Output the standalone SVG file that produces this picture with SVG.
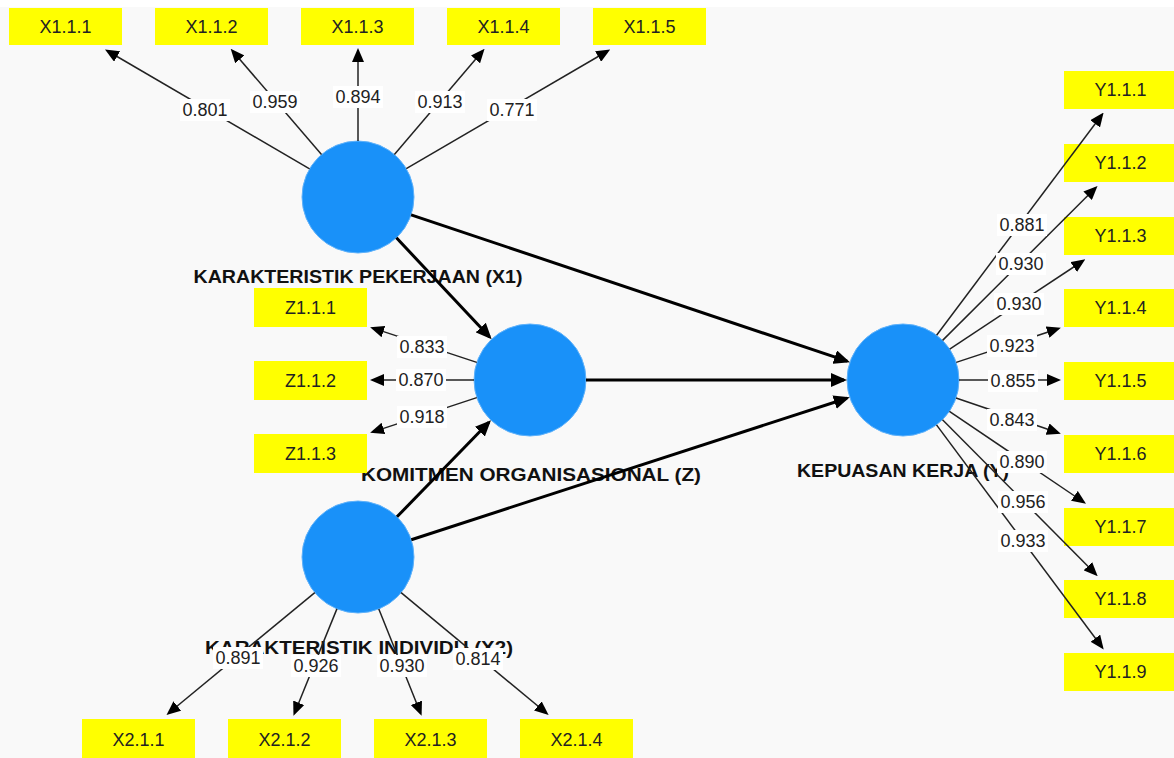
<svg xmlns="http://www.w3.org/2000/svg" width="1174" height="758" viewBox="0 0 1174 758">
<style>
.bg{fill:#f9f9f9}
.lv{fill:#1991f9;stroke:#5fb2fb;stroke-width:1}
.ind{fill:#ffff00}
.it{font-family:"Liberation Sans",Arial,sans-serif;font-size:18px;fill:#222;text-anchor:middle}
.ln{font-family:"Liberation Sans",Arial,sans-serif;font-size:19px;font-weight:bold;fill:#111;text-anchor:middle}
.w{stroke:#222;stroke-width:1.5;fill:none;marker-end:url(#ah)}
.s{stroke:#000;stroke-width:3;fill:none;marker-end:url(#ahb)}
.lb{fill:#fff}
.wt{font-family:"Liberation Sans",Arial,sans-serif;font-size:18px;fill:#222;text-anchor:middle}
</style>
<defs>
<marker id="ah" markerUnits="userSpaceOnUse" markerWidth="14" markerHeight="12" refX="11" refY="6" orient="auto"><path d="M0,0 L14,6 L0,12 z" fill="#000"/></marker>
<marker id="ahb" markerUnits="userSpaceOnUse" markerWidth="16" markerHeight="14" refX="13" refY="7" orient="auto"><path d="M0,0 L16,7 L0,14 z" fill="#000"/></marker>
</defs>
<rect class="bg" x="0" y="0" width="1174" height="758"/>
<rect x="0" y="0" width="1174" height="7" fill="#fff"/>

<g id="X1"><circle class="lv" cx="358" cy="197" r="56"/><text class="ln" x="358" y="283" textLength="329" lengthAdjust="spacingAndGlyphs">KARAKTERISTIK PEKERJAAN (X1)</text></g>
<g id="Z"><circle class="lv" cx="530" cy="380" r="56"/><text class="ln" x="531" y="481" textLength="340" lengthAdjust="spacingAndGlyphs">KOMITMEN ORGANISASIONAL (Z)</text></g>
<g id="Y"><circle class="lv" cx="903" cy="380" r="56"/><text class="ln" x="903" y="477" textLength="212" lengthAdjust="spacingAndGlyphs">KEPUASAN KERJA (Y)</text></g>
<g id="X2"><circle class="lv" cx="358" cy="557" r="56"/><text class="ln" x="359" y="654" textLength="308" lengthAdjust="spacingAndGlyphs">KARAKTERISTIK INDIVIDU (X2)</text></g>

<g id="X1.1.1"><rect class="ind" x="9" y="8" width="113" height="37"/><text class="it" x="65.5" y="33">X1.1.1</text></g>
<g id="X1.1.2"><rect class="ind" x="155" y="8" width="113" height="37"/><text class="it" x="211.5" y="33">X1.1.2</text></g>
<g id="X1.1.3"><rect class="ind" x="301" y="8" width="113" height="37"/><text class="it" x="357.5" y="33">X1.1.3</text></g>
<g id="X1.1.4"><rect class="ind" x="447" y="8" width="113" height="37"/><text class="it" x="503.5" y="33">X1.1.4</text></g>
<g id="X1.1.5"><rect class="ind" x="593" y="8" width="113" height="37"/><text class="it" x="649.5" y="33">X1.1.5</text></g>

<g id="Z1.1.1"><rect class="ind" x="254" y="288" width="113" height="39"/><text class="it" x="310.5" y="313.5">Z1.1.1</text></g>
<g id="Z1.1.2"><rect class="ind" x="254" y="361" width="113" height="39"/><text class="it" x="310.5" y="386.5">Z1.1.2</text></g>
<g id="Z1.1.3"><rect class="ind" x="254" y="434" width="113" height="39"/><text class="it" x="310.5" y="459.5">Z1.1.3</text></g>

<g id="Y1.1.1"><rect class="ind" x="1064" y="71" width="113" height="38"/><text class="it" x="1120.5" y="96">Y1.1.1</text></g>
<g id="Y1.1.2"><rect class="ind" x="1064" y="144" width="113" height="38"/><text class="it" x="1120.5" y="169">Y1.1.2</text></g>
<g id="Y1.1.3"><rect class="ind" x="1064" y="217" width="113" height="38"/><text class="it" x="1120.5" y="242">Y1.1.3</text></g>
<g id="Y1.1.4"><rect class="ind" x="1064" y="289" width="113" height="38"/><text class="it" x="1120.5" y="314">Y1.1.4</text></g>
<g id="Y1.1.5"><rect class="ind" x="1064" y="362" width="113" height="38"/><text class="it" x="1120.5" y="387">Y1.1.5</text></g>
<g id="Y1.1.6"><rect class="ind" x="1064" y="435" width="113" height="38"/><text class="it" x="1120.5" y="460">Y1.1.6</text></g>
<g id="Y1.1.7"><rect class="ind" x="1064" y="508" width="113" height="38"/><text class="it" x="1120.5" y="533">Y1.1.7</text></g>
<g id="Y1.1.8"><rect class="ind" x="1064" y="580" width="113" height="38"/><text class="it" x="1120.5" y="605">Y1.1.8</text></g>
<g id="Y1.1.9"><rect class="ind" x="1064" y="653" width="113" height="38"/><text class="it" x="1120.5" y="678">Y1.1.9</text></g>

<g id="X2.1.1"><rect class="ind" x="82" y="719" width="113" height="45"/><text class="it" x="138.5" y="746">X2.1.1</text></g>
<g id="X2.1.2"><rect class="ind" x="228" y="719" width="113" height="45"/><text class="it" x="284.5" y="746">X2.1.2</text></g>
<g id="X2.1.3"><rect class="ind" x="374" y="719" width="113" height="45"/><text class="it" x="430.5" y="746">X2.1.3</text></g>
<g id="X2.1.4"><rect class="ind" x="520" y="719" width="113" height="45"/><text class="it" x="576.5" y="746">X2.1.4</text></g>

<g id="connectors">
<line class="s" x1="396.4" y1="237.8" x2="489.6" y2="337"/>
<line class="s" x1="411.1" y1="214.8" x2="847.1" y2="361.2"/>
<line class="s" x1="586" y1="380" x2="844" y2="380"/>
<line class="s" x1="397" y1="516.8" x2="488.9" y2="422.3"/>
<line class="s" x1="411.3" y1="539.7" x2="846.9" y2="398.2"/>

<line class="w" x1="309.6" y1="168.8" x2="107.6" y2="51"/>
<line class="w" x1="321.5" y1="154.5" x2="232.6" y2="51"/>
<line class="w" x1="358" y1="141" x2="358" y2="51"/>
<line class="w" x1="394.4" y1="154.4" x2="482.6" y2="51"/>
<line class="w" x1="406.3" y1="168.7" x2="607.6" y2="51"/>

<line class="w" x1="476.8" y1="362.4" x2="373" y2="328.1"/>
<line class="w" x1="474" y1="380" x2="373" y2="380"/>
<line class="w" x1="476.8" y1="397.6" x2="373" y2="431.9"/>

<line class="w" x1="936.6" y1="335.2" x2="1101.8" y2="115"/>
<line class="w" x1="942.6" y1="340.4" x2="1095.4" y2="188"/>
<line class="w" x1="949.7" y1="349.1" x2="1082.8" y2="261"/>
<line class="w" x1="956.2" y1="362.4" x2="1058" y2="328.7"/>
<line class="w" x1="959" y1="380" x2="1058" y2="380"/>
<line class="w" x1="956" y1="398" x2="1058" y2="432.7"/>
<line class="w" x1="949.4" y1="411.4" x2="1083.5" y2="502"/>
<line class="w" x1="942.5" y1="419.7" x2="1095.6" y2="574"/>
<line class="w" x1="936.5" y1="424.9" x2="1101.9" y2="647"/>

<line class="w" x1="314.8" y1="592.6" x2="168.8" y2="713"/>
<line class="w" x1="336.9" y1="608.9" x2="294.6" y2="713"/>
<line class="w" x1="378.8" y1="609" x2="420.5" y2="713"/>
<line class="w" x1="401.1" y1="592.7" x2="546.3" y2="713"/>

<rect class="lb" x="180" y="99" width="50" height="22"/><text class="wt" x="205" y="116">0.801</text>
<rect class="lb" x="250" y="91" width="50" height="22"/><text class="wt" x="275" y="108">0.959</text>
<rect class="lb" x="333" y="86" width="50" height="22"/><text class="wt" x="358" y="103">0.894</text>
<rect class="lb" x="415" y="91" width="50" height="22"/><text class="wt" x="440" y="108">0.913</text>
<rect class="lb" x="487" y="99" width="50" height="22"/><text class="wt" x="512" y="116">0.771</text>

<rect class="lb" x="397" y="336" width="50" height="22"/><text class="wt" x="422" y="353">0.833</text>
<rect class="lb" x="396" y="369" width="50" height="22"/><text class="wt" x="421" y="386">0.870</text>
<rect class="lb" x="397" y="406" width="50" height="22"/><text class="wt" x="422" y="423">0.918</text>

<rect class="lb" x="997" y="214" width="50" height="22"/><text class="wt" x="1022" y="231">0.881</text>
<rect class="lb" x="996" y="253" width="50" height="22"/><text class="wt" x="1021" y="270">0.930</text>
<rect class="lb" x="994" y="293" width="50" height="22"/><text class="wt" x="1019" y="310">0.930</text>
<rect class="lb" x="987" y="335" width="50" height="22"/><text class="wt" x="1012" y="352">0.923</text>
<rect class="lb" x="988" y="370" width="50" height="22"/><text class="wt" x="1013" y="387">0.855</text>
<rect class="lb" x="987" y="409" width="50" height="22"/><text class="wt" x="1012" y="426">0.843</text>
<rect class="lb" x="997" y="451" width="50" height="22"/><text class="wt" x="1022" y="468">0.890</text>
<rect class="lb" x="998" y="491" width="50" height="22"/><text class="wt" x="1023" y="508">0.956</text>
<rect class="lb" x="998" y="530" width="50" height="22"/><text class="wt" x="1023" y="547">0.933</text>

<rect class="lb" x="213" y="647" width="50" height="22"/><text class="wt" x="238" y="664">0.891</text>
<rect class="lb" x="291" y="655" width="50" height="22"/><text class="wt" x="316" y="672">0.926</text>
<rect class="lb" x="377" y="655" width="50" height="22"/><text class="wt" x="402" y="672">0.930</text>
<rect class="lb" x="453" y="648" width="50" height="22"/><text class="wt" x="478" y="665">0.814</text>
</g>
</svg>
